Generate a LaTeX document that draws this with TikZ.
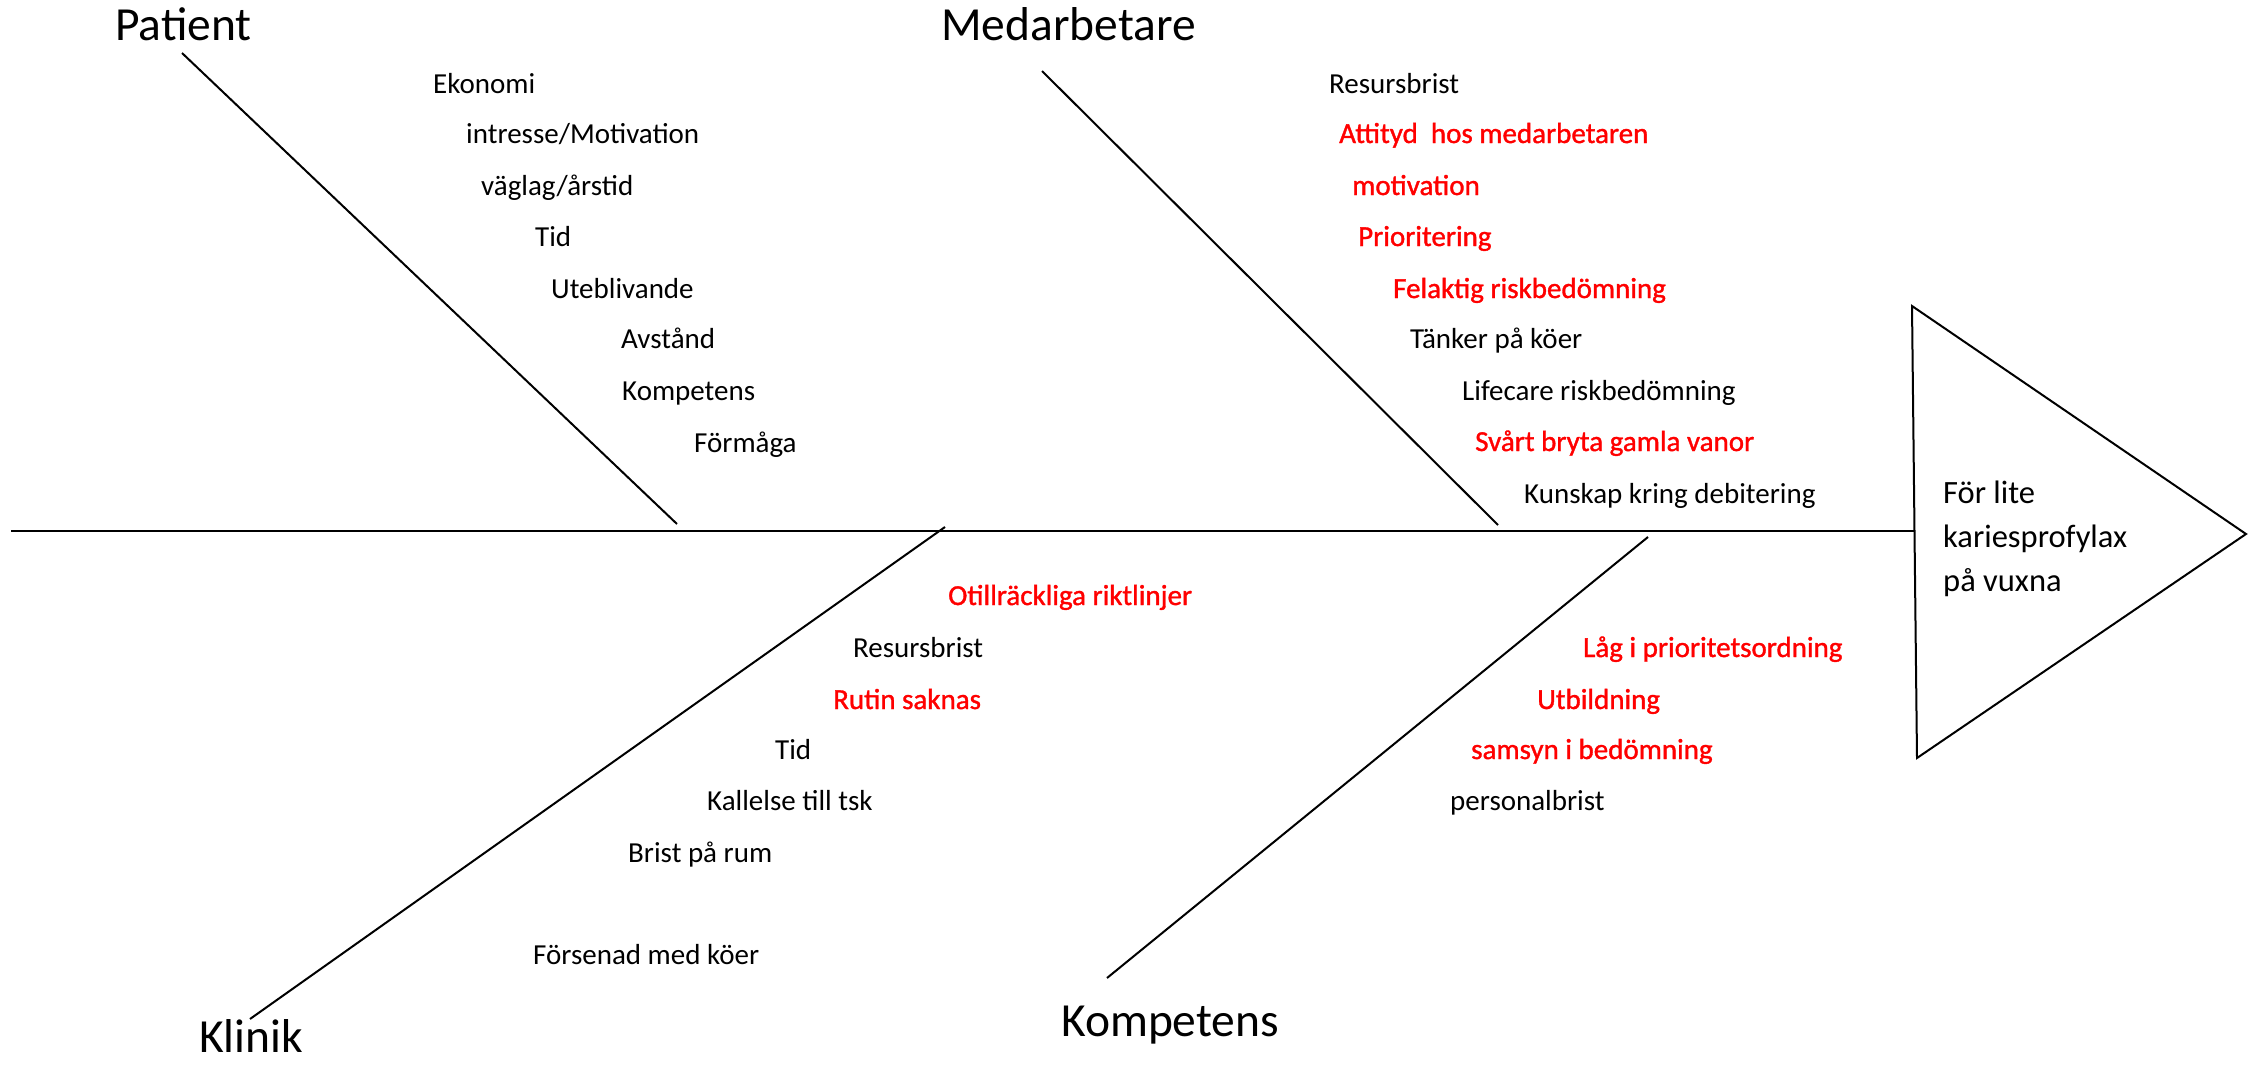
\documentclass[tikz,border=0pt]{standalone}
\usepackage{fontspec}
\setmainfont{Carlito}
\newfontfamily\redfont[FakeBold=1.2]{Carlito}
\begin{document}
\begin{tikzpicture}[x=1pt,y=-1pt,
  item/.style={anchor=base west, inner sep=0pt, font=\fontsize{29}{35}\selectfont, text=black},
  reditem/.style={item, font=\redfont\fontsize{29}{35}\selectfont, text=red},
  cat/.style={anchor=base west, inner sep=0pt, font=\fontsize{47.5}{56}\selectfont},
  bone/.style={line width=2pt, draw=black},
  effect/.style={anchor=west, inner sep=0pt, align=left, font=\fontsize{32.5}{44}\selectfont}]
\useasboundingbox (0,0) rectangle (2263,1065);
\fill[white] (0,0) rectangle (2263,1065);
% spine and head
\coordinate (spineL) at (11,531);
\coordinate (triTop) at (1912,306);
\coordinate (triBot) at (1917,758);
\coordinate (triTip) at (2246,534);
\coordinate (spineR) at (1914,531);
\draw[bone] (spineL) -- (spineR);
\draw[bone, line join=miter] (triTop) -- (triTip) -- (triBot) -- cycle;
\node[effect] (effect) at (1943,539) {För lite\\kariesprofylax\\på vuxna};
% bones
\coordinate (pA) at (182,53);   \coordinate (pB) at (677,524);
\coordinate (mA) at (1042,71);  \coordinate (mB) at (1498,525);
\coordinate (kA) at (945,527);  \coordinate (kB) at (250,1019);
\coordinate (cA) at (1648,537); \coordinate (cB) at (1107,978);
\draw[bone] (pA) -- (pB);
\draw[bone] (mA) -- (mB);
\draw[bone] (kA) -- (kB);
\draw[bone] (cA) -- (cB);
% category labels
\node[cat] (patient) at (115,41) {Patient};
\node[cat] (medarb) at (941,41) {Medarbetare};
\node[cat] (klinik) at (199,1052) {Klinik};
\node[cat] (kompetens) at (1061,1036) {Kompetens};
% Patient causes
\node[item] (p1) at (433,93) {Ekonomi};
\node[item] (p2) at (466,143) {intresse/Motivation};
\node[item] (p3) at (481,195) {väglag/årstid};
\node[item] (p4) at (535,246) {Tid};
\node[item] (p5) at (551,298) {Uteblivande};
\node[item] (p6) at (621,348) {Avstånd};
\node[item] (p7) at (622,400) {Kompetens};
\node[item] (p8) at (694,452) {Förmåga};
% Medarbetare causes
\node[item] (m1) at (1329,93) {Resursbrist};
\node[reditem] (m2) at (1339,143) {Attityd\ \ hos medarbetaren};
\node[reditem] (m3) at (1352,195) {motivation};
\node[reditem] (m4) at (1358,246) {Prioritering};
\node[reditem] (m5) at (1393,298) {Felaktig riskbedömning};
\node[item] (m6) at (1410,348) {Tänker på köer};
\node[item] (m7) at (1462,400) {Lifecare riskbedömning};
\node[reditem] (m8) at (1475,451) {Svårt bryta gamla vanor};
\node[item] (m9) at (1524,503) {Kunskap kring debitering};
% Klinik causes
\node[reditem] (k1) at (948,605) {Otillräckliga riktlinjer};
\node[item] (k2) at (853,657) {Resursbrist};
\node[reditem] (k3) at (833,709) {Rutin saknas};
\node[item] (k4) at (775,759) {Tid};
\node[item] (k5) at (707,810) {Kallelse till tsk};
\node[item] (k6) at (628,862) {Brist på rum};
\node[item] (k7) at (533,964) {Försenad med köer};
% Kompetens causes
\node[reditem] (c1) at (1583,657) {Låg i prioritetsordning};
\node[reditem] (c2) at (1537,709) {Utbildning};
\node[reditem] (c3) at (1471,759) {samsyn i bedömning};
\node[item] (c4) at (1450,810) {personalbrist};
\end{tikzpicture}
\end{document}
